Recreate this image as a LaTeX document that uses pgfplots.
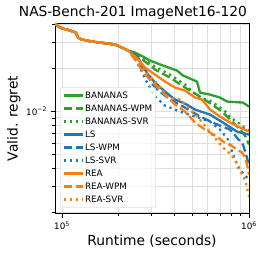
\documentclass[border=0pt]{standalone}
\usepackage{fontspec}
\setmainfont{DejaVu Sans}
\usepackage{pgfplots}
\pgfplotsset{compat=1.18}
\definecolor{tabblue}{HTML}{1F77B4}
\definecolor{taborange}{HTML}{FF7F0E}
\definecolor{tabgreen}{HTML}{2CA02C}
\tikzset{
  sol/.style={line width=2.3bp, line join=round},
  dsh/.style={line width=2.3bp, line join=round, dash pattern=on 8.5bp off 3.7bp},
  dtt/.style={line width=2.3bp, line join=round, dash pattern=on 2.3bp off 3.8bp},
}
\begin{document}
\begin{tikzpicture}
\begin{axis}[
  at={(0,0)}, anchor=south west,
  scale only axis, width=194bp, height=190bp,
  xmode=log, ymode=log,
  xmin=91800, xmax=1000000, ymin=0.00195, ymax=0.0407,
  xtick={100000,1000000}, xticklabels={10\textsuperscript{5},10\textsuperscript{6}},
  ytick={0.01}, yticklabels={10\textsuperscript{−2}},
  minor xtick={200000,300000,400000,500000,600000,700000,800000,900000},
  minor ytick={0.002,0.003,0.004,0.005,0.006,0.007,0.008,0.009,0.02,0.03,0.04},
  grid=both,
  major grid style={draw=gray!25, line width=0.8bp},
  minor grid style={draw=gray!25, line width=0.8bp},
  tick align=outside, tick pos=left,
  major tick length=4.5bp, minor tick length=2.7bp,
  every tick/.style={black, line width=0.8bp},
  every minor tick/.style={black, line width=0.6bp},
  axis line style={line width=0.8bp},
  ticklabel style={font=\fontsize{8.8bp}{10bp}\selectfont},
  legend cell align=left,
  legend image code/.code={\draw[#1] (0bp,0bp) -- (19bp,0bp);},
  legend style={at={(0.0258,0.664)}, anchor=north west,
    draw=gray!40, rounded corners=2bp, fill=white, fill opacity=0.8, text opacity=1,
    font=\fontsize{8.8bp}{10bp}\selectfont, inner sep=2.5bp, row sep=2bp,
    nodes={inner sep=1bp, text height=7bp, text depth=2bp},
    /tikz/every even column/.append style={column sep=5bp}},
]
% BANANAS
\addplot[tabgreen, sol] coordinates {(91800,0.0406) (97560,0.0381) (110400,0.0364) (118800,0.0352) (121800,0.0325) (127900,0.0315) (144700,0.0305) (192000,0.0291) (209400,0.0277) (225400,0.0264)
 (245700,0.02556) (271200,0.02399) (295500,0.02250) (346900,0.02077) (412100,0.01917) (443800,0.01770) (527100,0.01608) (547000,0.01348) (618600,0.01306) (699800,0.01245) (762800,0.01168) (928800,0.01149) (1000000,0.01078)};
\addlegendentry{BANANAS}
% BANANAS-WPM
\addplot[tabgreen, dsh] coordinates {(91800,0.0406) (97560,0.0381) (110400,0.0364) (118800,0.0352) (121800,0.0325) (127900,0.0315) (144700,0.0305) (192000,0.0291) (209400,0.0277) (225400,0.0264)
 (261400,0.02360) (314300,0.01948) (378000,0.01714) (454900,0.01461) (547000,0.01265) (634000,0.01113) (717200,0.00995) (811100,0.00848) (895100,0.00746) (951900,0.00678) (1000000,0.00587)};
\addlegendentry{BANANAS-WPM}
% BANANAS-SVR
\addplot[tabgreen, dtt] coordinates {(91800,0.0406) (97560,0.0381) (110400,0.0364) (118800,0.0352) (121800,0.0325) (127900,0.0315) (144700,0.0305) (192000,0.0291) (209400,0.0277) (225400,0.0264)
 (261400,0.02399) (314300,0.02044) (378000,0.01798) (454900,0.01532) (533700,0.01265) (634000,0.01168) (699800,0.01061) (762800,0.00979) (791400,0.00904) (862500,0.00848) (928800,0.00783) (975600,0.00746) (1000000,0.00734)};
\addlegendentry{BANANAS-SVR}
% LS
\addplot[tabblue, sol] coordinates {(91800,0.0406) (97560,0.0381) (110400,0.0364) (118800,0.0352) (121800,0.0325) (127900,0.0315) (144700,0.0305) (192000,0.0291) (209400,0.0277) (225400,0.0264)
 (236800,0.0255) (255000,0.02360) (267800,0.02110) (288400,0.01798) (314300,0.01582) (355500,0.01370) (402000,0.01206) (454900,0.01131) (514300,0.01027) (618600,0.009486) (726100,0.008346) (862500,0.007227) (1000000,0.006889)};
\addlegendentry{LS}
% LS-WPM
\addplot[tabblue, dsh] coordinates {(91800,0.0406) (97560,0.0381) (110400,0.0364) (118800,0.0352) (121800,0.0325) (127900,0.0315) (144700,0.0305) (192000,0.0291) (209400,0.0277) (225400,0.0264)
 (236800,0.0250) (277900,0.01887) (314300,0.01461) (378000,0.01206) (454900,0.01061) (547000,0.009187) (658000,0.008214) (791400,0.007461) (852000,0.006672) (928800,0.005871) (963800,0.005003) (1000000,0.004265)};
\addlegendentry{LS-WPM}
% LS-SVR
\addplot[tabblue, dtt] coordinates {(91800,0.0406) (97560,0.0381) (110400,0.0364) (118800,0.0352) (121800,0.0325) (127900,0.0315) (144700,0.0305) (192000,0.0291) (209400,0.0277) (225400,0.0264)
 (236800,0.02476) (261400,0.02011) (288400,0.01532) (314300,0.01265) (355500,0.01095) (427600,0.009952) (514300,0.009187) (618600,0.008481) (699800,0.007461) (772200,0.006360) (821100,0.005003) (873300,0.004130) (940300,0.003634) (1000000,0.003354)};
\addlegendentry{LS-SVR}
% REA
\addplot[taborange, sol] coordinates {(91800,0.0406) (97560,0.0381) (110400,0.0364) (118800,0.0352) (121800,0.0325) (127900,0.0315) (144700,0.0305) (192000,0.0291) (209400,0.0277) (225400,0.0264)
 (245700,0.02399) (261400,0.02214) (277900,0.02011) (314300,0.01798) (355500,0.01608) (402000,0.01461) (454900,0.01392) (514300,0.01245) (560700,0.01206) (618600,0.01027) (699800,0.009187) (791400,0.008346) (895100,0.007704) (1000000,0.007227)};
\addlegendentry{REA}
% REA-WPM
\addplot[taborange, dsh] coordinates {(91800,0.0406) (97560,0.0381) (110400,0.0364) (118800,0.0352) (121800,0.0325) (127900,0.0315) (144700,0.0305) (192000,0.0291) (209400,0.0277) (225400,0.0264)
 (245700,0.02286) (277900,0.01798) (314300,0.01532) (355500,0.01306) (402000,0.01113) (454900,0.009952) (514300,0.008346) (581700,0.007461) (618600,0.007112) (674500,0.006672) (726100,0.006160) (791400,0.005871) (862500,0.005420) (917400,0.005166) (951900,0.004769) (975600,0.004265) (1000000,0.003634)};
\addlegendentry{REA-WPM}
% REA-SVR
\addplot[taborange, dtt] coordinates {(91800,0.0406) (97560,0.0381) (110400,0.0364) (118800,0.0352) (121800,0.0325) (127900,0.0315) (144700,0.0305) (192000,0.0291) (209400,0.0277) (225400,0.0264)
 (245700,0.02360) (277900,0.01887) (326200,0.01532) (368800,0.01245) (427600,0.01206) (483800,0.01027) (547000,0.008757) (634000,0.006889) (726100,0.005596) (791400,0.005083) (841600,0.004620) (873300,0.004064) (928800,0.003577) (963800,0.003147) (1000000,0.002556)};
\addlegendentry{REA-SVR}
\end{axis}
\node[anchor=base, font=\fontsize{13.8bp}{16bp}\selectfont] at (78bp,196.5bp) {NAS-Bench-201 ImageNet16-120};
\node[anchor=base, font=\fontsize{13.8bp}{16bp}\selectfont] at (97bp,-32bp) {Runtime (seconds)};
\node[rotate=90, anchor=base, font=\fontsize{13.8bp}{16bp}\selectfont] at (-37.5bp,95bp) {Valid. regret};
\pgfresetboundingbox
\useasboundingbox (-55bp,-42.5bp) rectangle (211bp,213.5bp);
\end{tikzpicture}
\end{document}
